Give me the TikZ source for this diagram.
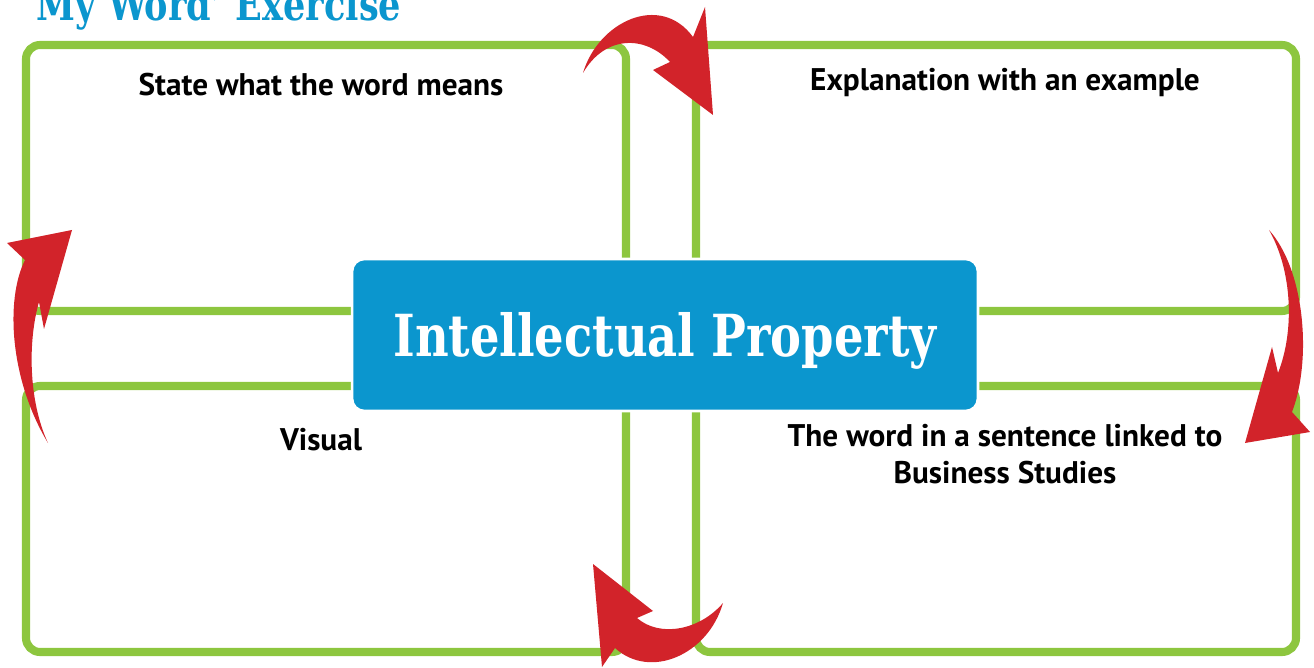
\documentclass[tikz,border=0pt]{standalone}
\usepackage{fontspec}
\setmainfont{PT Sans}
\newfontfamily\slabfont[FakeStretch=0.8]{DejaVu Serif}
\usetikzlibrary{positioning}
\definecolor{wordgreen}{HTML}{8DC63F}
\definecolor{wordblue}{HTML}{0B96CE}
\definecolor{wordred}{HTML}{D2232A}
\tikzset{
  quad/.style={draw=wordgreen,line width=4.6pt,rounded corners=8pt},
  prompt/.style={font=\bfseries\fontsize{17.8}{21}\selectfont,align=center,inner sep=0pt}
}

\begin{document}
\begin{tikzpicture}[x=0.02cm,y=-0.02cm]
\useasboundingbox (0,0) rectangle (1314,668);
\node[anchor=base west,inner sep=0pt,text=wordblue,font=\slabfont\bfseries\fontsize{25}{30}\selectfont] (title) at (24,21) {‘My Word’ Exercise};
% four quadrants
\draw[quad] (26,45) rectangle (626,311);
\draw[quad] (696,45) rectangle (1296,311);
\draw[quad] (26,386) rectangle (626,652);
\draw[quad] (696,386) rectangle (1296,652);
\node[fill=wordblue,draw=white,line width=1.5pt,rounded corners=7pt,minimum width=12.52cm,minimum height=3.04cm,
  text height=24pt,text depth=0pt,text=white,font=\slabfont\bfseries\fontsize{33}{36}\selectfont] (ip) at (665,335) {Intellectual Property};
\node[prompt] (means) at (321,85) {State what the word means};
\node[prompt] (example) at (1005,83) {Explanation with an example};
\node[prompt] (visual) at (321,440) {Visual};
\node[prompt] (sentence) at (1005,454) {The word in a sentence linked to\\Business Studies};
% red arrows round the quadrants
\fill[wordred] (583,73) .. controls (598,22) and (660,-8) .. (693,37) -- (705,7) -- (713,115) -- (653,70) -- (670,62)
  .. controls (645,35) and (605,35) .. cycle;
\fill[wordred] (1269,230) .. controls (1305,270) and (1312,360) .. (1292,412) -- (1310,432) -- (1245,443) -- (1272,347)
  -- (1278,373) .. controls (1295,330) and (1292,270) .. cycle;
\fill[wordred] (723,603) .. controls (708,655) and (650,680) .. (615,648) -- (602,667) -- (593,564) -- (653,611)
  -- (637,618) .. controls (660,638) and (700,630) .. cycle;
\fill[wordred] (48,443) .. controls (10,380) and (5,300) .. (25,260) -- (7,243) -- (72,230) -- (44,329)
  -- (39,302) .. controls (28,340) and (28,400) .. cycle;
\end{tikzpicture}
\end{document}
